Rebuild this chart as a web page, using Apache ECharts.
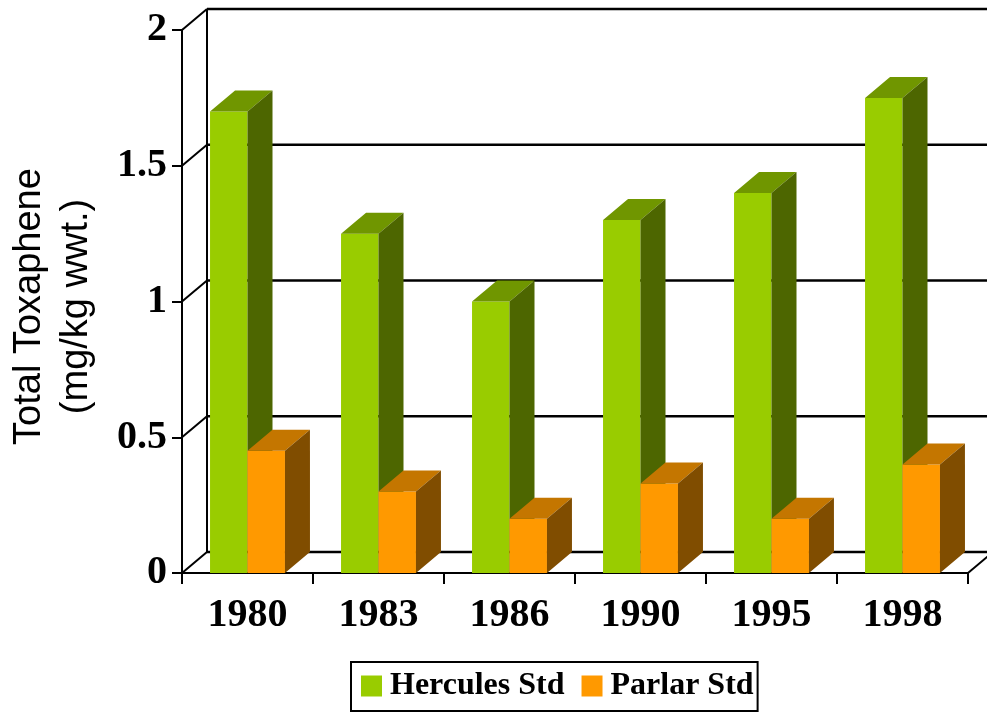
<!DOCTYPE html>
<html>
<head>
<meta charset="utf-8">
<script src="https://cdn.jsdelivr.net/npm/echarts@6/dist/echarts.min.js"></script>
<style>
  html, body { margin: 0; padding: 0; background: #fff; }
  #chart { width: 987px; height: 713px; }
</style>
</head>
<body>
<div id="chart"></div>
<script>
// data
const years = ["1980", "1983", "1986", "1990", "1995", "1998"];
const herculesStd = [1.7, 1.25, 1.0, 1.3, 1.4, 1.75];
const parlarStd = [0.45, 0.3, 0.2, 0.33, 0.2, 0.4];
const yTicks = [0, 0.5, 1, 1.5, 2];

const DX = 25, DY = 21; // 3d depth offset in px
const BAR_RATIO = 0.286; // bar width / category width

const GREEN = ["#99CC00", "#709600", "#4D6600"];
const ORANGE = ["#FF9900", "#C47600", "#804D00"];

function barRenderer(side, colors) {
  return function (params, api) {
    const idx = api.value(0);
    const top = api.coord([idx, api.value(1)]);
    const base = api.coord([idx, 0]);
    const w = api.size([1, 0])[0] * BAR_RATIO;
    const x0 = side < 0 ? top[0] - w : top[0];
    const x1 = x0 + w;
    const yT = top[1], yB = base[1];
    return {
      type: "group",
      children: [
        { type: "rect", shape: { x: x0, y: yT, width: w, height: yB - yT }, style: { fill: colors[0] } },
        { type: "polygon", shape: { points: [[x0, yT], [x1, yT], [x1 + DX, yT - DY], [x0 + DX, yT - DY]] }, style: { fill: colors[1] } },
        { type: "polygon", shape: { points: [[x1, yT], [x1 + DX, yT - DY], [x1 + DX, yB - DY], [x1, yB]] }, style: { fill: colors[2] } },
      ],
    };
  };
}

// back wall, side wall and floor lines
function wallRenderer(params, api) {
  const v = api.value(1);
  const bw = api.size([1, 0])[0];
  const p = api.coord([0, v]);
  const xl = p[0] - bw / 2;
  const xr = api.coord([years.length - 1, v])[0] + bw / 2;
  const y = p[1];
  const thin = { stroke: "#000", lineWidth: 2 };
  const children = [
    { type: "line", shape: { x1: xl, y1: y, x2: xl + DX, y2: y - DY }, style: thin },
    { type: "line", shape: { x1: xl + DX, y1: y - DY, x2: xr + DX, y2: y - DY }, style: { stroke: "#000", lineWidth: 2.5 } },
  ];
  if (params.dataIndex === 0) {
    const yTop = api.coord([0, yTicks[yTicks.length - 1]])[1];
    children.push({ type: "line", shape: { x1: xl + DX, y1: y - DY, x2: xl + DX, y2: yTop - DY }, style: thin });
    children.push({ type: "line", shape: { x1: xr, y1: y, x2: xr + DX, y2: y - DY }, style: thin });
  }
  return { type: "group", children: children };
}

const chart = echarts.init(document.getElementById("chart"));
chart.setOption({
  animation: false,
  grid: { left: 182, right: 19, top: 30, bottom: 140, outerBoundsMode: "none" },
  legend: {
    left: 351,
    top: 662,
    itemWidth: 21,
    itemHeight: 21,
    itemGap: 17,
    borderColor: "#000",
    borderWidth: 2,
    borderRadius: 0,
    padding: [8, 4, 9, 10],
    textStyle: { fontFamily: "Liberation Serif", fontWeight: "bold", fontSize: 32, color: "#000", padding: [0, 0, 0, 3] },
    data: [
      { name: "Hercules Std", icon: "rect" },
      { name: "Parlar Std", icon: "rect" },
    ],
  },
  xAxis: {
    type: "category",
    data: years,
    boundaryGap: true,
    axisLine: { lineStyle: { color: "#000", width: 2 } },
    axisTick: { show: true, length: 11, lineStyle: { color: "#000", width: 2 } },
    axisLabel: { margin: 23, color: "#000", fontFamily: "Liberation Serif", fontWeight: "bold", fontSize: 40 },
  },
  yAxis: {
    type: "value",
    min: 0,
    max: 2,
    interval: 0.5,
    name: "Total Toxaphene\n(mg/kg wwt.)",
    nameLocation: "middle",
    nameRotate: 90,
    nameGap: 82,
    nameTextStyle: { fontFamily: "Liberation Sans", fontSize: 38, lineHeight: 47, color: "#000", padding: [0, 10, 0, 0] },
    axisLine: { show: true, lineStyle: { color: "#000", width: 2 } },
    axisTick: { show: true, length: 10, lineStyle: { color: "#000", width: 2 } },
    axisLabel: { margin: 15, color: "#000", fontFamily: "Liberation Serif", fontWeight: "bold", fontSize: 40 },
    splitLine: { show: false },
  },
  series: [
    {
      type: "custom",
      silent: true,
      z: 1,
      renderItem: wallRenderer,
      encode: { x: 0, y: 1 },
      data: yTicks.map((v) => [0, v]),
    },
    {
      name: "Hercules Std",
      type: "custom",
      z: 2,
      itemStyle: { color: GREEN[0] },
      renderItem: barRenderer(-1, GREEN),
      encode: { x: 0, y: 1 },
      data: herculesStd.map((v, i) => [i, v]),
    },
    {
      name: "Parlar Std",
      type: "custom",
      z: 3,
      itemStyle: { color: ORANGE[0] },
      renderItem: barRenderer(1, ORANGE),
      encode: { x: 0, y: 1 },
      data: parlarStd.map((v, i) => [i, v]),
    },
  ],
});
</script>
</body>
</html>
